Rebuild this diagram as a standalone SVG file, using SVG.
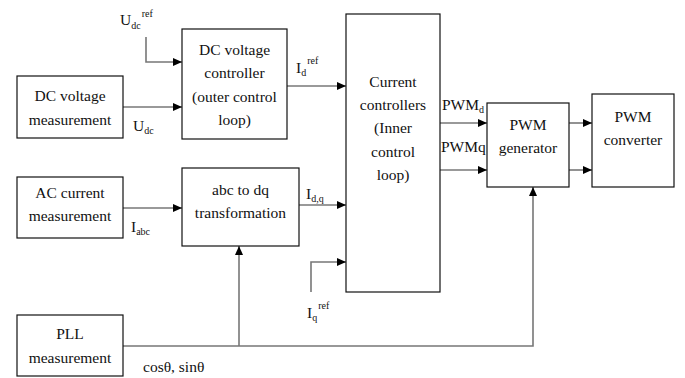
<svg xmlns="http://www.w3.org/2000/svg" width="685" height="378" viewBox="0 0 685 378">
<style>
.box{fill:#fff;stroke:#111;stroke-width:1.2}
text{font-family:'Times New Roman','Liberation Serif',Times,serif;font-size:15.5px;fill:#111}
.t{text-anchor:middle}
.s{font-size:10px}
.c{fill:none;stroke:#777;stroke-width:1.6}
</style>
<defs>
<marker id="ah" markerUnits="userSpaceOnUse" markerWidth="10" markerHeight="10" refX="9" refY="5" orient="auto">
<path d="M0,1 L9,5 L0,9 Z" fill="#000"/>
</marker>
</defs>
<rect width="685" height="378" fill="#fff"/>
<g id="connectors">
<path class="c" d="M146,37 V62 H182" marker-end="url(#ah)"/>
<path class="c" d="M123,107 H182" marker-end="url(#ah)"/>
<path class="c" d="M287,86 H346" marker-end="url(#ah)"/>
<path class="c" d="M123,208 H182" marker-end="url(#ah)"/>
<path class="c" d="M299,205 H346" marker-end="url(#ah)"/>
<path class="c" d="M311,292 V262 H346" marker-end="url(#ah)"/>
<path class="c" d="M123,346 H533 V187" marker-end="url(#ah)"/>
<path class="c" d="M239,346 V246" marker-end="url(#ah)"/>
<path class="c" d="M440,123 H487" marker-end="url(#ah)"/>
<path class="c" d="M440,170 H487" marker-end="url(#ah)"/>
<path class="c" d="M569,123 H592" marker-end="url(#ah)"/>
<path class="c" d="M569,170 H592" marker-end="url(#ah)"/>
</g>
<g id="dcmeas">
<rect class="box" x="17" y="76" width="106" height="62"/>
<text class="t" x="70" y="101">DC voltage</text>
<text class="t" x="70" y="125">measurement</text>
</g>
<g id="dcctrl">
<rect class="box" x="182" y="29" width="105" height="110"/>
<text class="t" x="234.5" y="55">DC voltage</text>
<text class="t" x="234.5" y="78">controller</text>
<text class="t" x="234.5" y="102">(outer control</text>
<text class="t" x="234.5" y="125">loop)</text>
</g>
<g id="acmeas">
<rect class="box" x="17" y="177" width="106" height="61"/>
<text class="t" x="70" y="198">AC current</text>
<text class="t" x="70" y="221">measurement</text>
</g>
<g id="abcdq">
<rect class="box" x="182" y="168" width="117" height="78"/>
<text class="t" x="240.5" y="195">abc to dq</text>
<text class="t" x="240.5" y="218">transformation</text>
</g>
<g id="pll">
<rect class="box" x="17" y="315" width="106" height="61"/>
<text class="t" x="70" y="339">PLL</text>
<text class="t" x="70" y="363">measurement</text>
</g>
<g id="curctrl">
<rect class="box" x="346" y="14" width="94" height="278"/>
<text class="t" x="393" y="87">Current</text>
<text class="t" x="393" y="110">controllers</text>
<text class="t" x="393" y="133">(Inner</text>
<text class="t" x="393" y="157">control</text>
<text class="t" x="393" y="180">loop)</text>
</g>
<g id="pwmgen">
<rect class="box" x="487" y="103" width="82" height="84"/>
<text class="t" x="528" y="130">PWM</text>
<text class="t" x="528" y="153">generator</text>
</g>
<g id="pwmconv">
<rect class="box" x="592" y="94" width="82" height="93"/>
<text class="t" x="633" y="122">PWM</text>
<text class="t" x="633" y="145">converter</text>
</g>
<g id="labels">
<text x="120" y="25">U<tspan class="s" dy="4">dc</tspan><tspan class="s" dy="-12" dx="1">ref</tspan></text>
<text x="133" y="131">U<tspan class="s" dy="3">dc</tspan></text>
<text x="296" y="73">I<tspan class="s" dy="3">d</tspan><tspan class="s" dy="-12" dx="1">ref</tspan></text>
<text x="306" y="199">I<tspan class="s" dy="3">d,q</tspan></text>
<text x="131" y="232">I<tspan class="s" dy="3">abc</tspan></text>
<text x="307" y="318">I<tspan class="s" dy="3">q</tspan><tspan class="s" dy="-12" dx="1">ref</tspan></text>
<text x="442" y="110">PWM<tspan class="s" dy="3">d</tspan></text>
<text x="441" y="152">PWMq</text>
<text x="143" y="372">cosθ, sinθ</text>
</g>
</svg>
